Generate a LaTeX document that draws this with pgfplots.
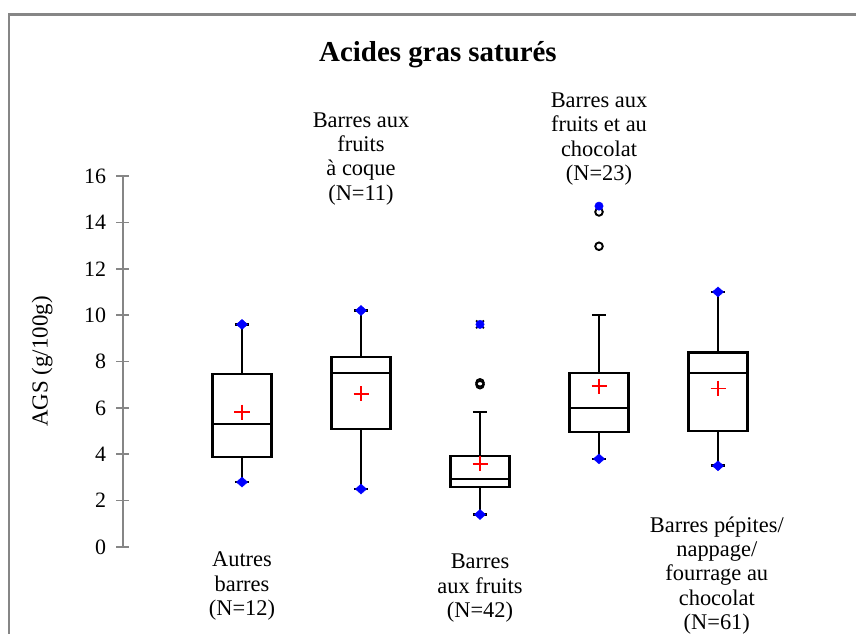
\documentclass[border=0pt]{standalone}
\usepackage{pgfplots}
\pgfplotsset{compat=1.18}
\usepgfplotslibrary{statistics}
\usepackage{fontspec}
\setmainfont{Liberation Serif}
\definecolor{axgray}{RGB}{134,134,134}
\definecolor{mblue}{RGB}{0,0,255}
\begin{document}
\begin{tikzpicture}
\begin{axis}[
  at={(0,0)}, anchor=south west,
  scale only axis, width=714bp, height=371bp,
  xmin=0, xmax=6, ymin=0, ymax=16,
  clip=false,
  axis y line*=left, axis x line=none,
  xtick=\empty,
  ytick={0,2,...,16},
  tick align=center, major tick length=13bp,
  y axis line style={axgray, line width=1.6bp},
  ytick style={axgray, line width=1.6bp},
  /pgf/number format/assume math mode=true,
  yticklabel style={font=\fontsize{22}{22}\selectfont, black, xshift=-7bp},
  ylabel={AGS (g/100g)},
  ylabel style={at={(rel axis cs:-0.1134,0.5)}, anchor=center, font=\fontsize{23}{23}\selectfont},
  boxplot/draw direction=y,
  boxplot/box extend=0.5,
  boxplot/whisker extend=0.12,
  boxplot/every box/.style={draw=black, line width=2.7bp},
  boxplot/every whisker/.style={black, line width=2.7bp},
  boxplot/every median/.style={black, line width=2.7bp},
]
% boxes
\addplot[black, line width=2.7bp, boxplot prepared={draw position=1, lower whisker=2.8, lower quartile=3.88, median=5.3, upper quartile=7.46, upper whisker=9.6}] coordinates {};
\addplot[black, line width=2.7bp, boxplot prepared={draw position=2, lower whisker=2.5, lower quartile=5.09, median=7.5, upper quartile=8.19, upper whisker=10.2}] coordinates {};
\addplot[black, line width=2.7bp, boxplot prepared={draw position=3, lower whisker=1.4, lower quartile=2.59, median=2.93, upper quartile=3.92, upper whisker=5.82}] coordinates {};
\addplot[black, line width=2.7bp, boxplot prepared={draw position=4, lower whisker=3.8, lower quartile=4.96, median=6.0, upper quartile=7.5, upper whisker=10.0}] coordinates {};
\addplot[black, line width=2.7bp, boxplot prepared={draw position=5, lower whisker=3.5, lower quartile=5.0, median=7.5, upper quartile=8.4, upper whisker=11.0}] coordinates {};
% outliers
\addplot[only marks, mark=o, mark size=3.8bp, black, line width=1.9bp] coordinates {(3,7.0)(3,7.08)(4,12.97)(4,14.45)};
\addplot[only marks, mark=x, mark size=5.5bp, black, line width=1.9bp] coordinates {(3,9.6)};
% min / max
\addplot[only marks, mark=diamond*, mark size=5bp, mblue, mark options={xscale=1.5}] coordinates {(1,2.8)(1,9.6)(2,2.5)(2,10.2)(3,1.4)(4,3.8)(5,3.5)(5,11.0)};
\addplot[only marks, mark=*, mark size=4.2bp, mblue] coordinates {(3,9.6)(4,14.7)};
% means
\addplot[only marks, mark=+, mark size=7.5bp, red, line width=1.3bp] coordinates {(1,5.82)(2,6.6)(3,3.58)(4,6.94)(5,6.85)};
% category labels
\begin{scope}[every node/.style={align=center, inner sep=0pt, anchor=north, font=\fontsize{22.5}{24.5}\selectfont}]
\node at (axis cs:1,-0.2) {Autres\\barres\\(N=12)};
\node at (axis cs:2,18.75) {Barres aux\\fruits\\à coque\\(N=11)};
\node at (axis cs:3,-0.3) {Barres\\aux fruits\\(N=42)};
\node at (axis cs:4,19.6) {Barres aux\\fruits et au\\chocolat\\(N=23)};
\node at (axis cs:4.99,1.32) {Barres pépites/\\nappage/\\fourrage au\\chocolat\\(N=61)};
\end{scope}
\end{axis}
\node[anchor=north, inner sep=0pt, font=\fontsize{29}{29}\selectfont\bfseries] at (315bp,506bp) {Acides gras saturés};
\draw[axgray, line width=2.2bp] (-114bp,-120bp) -- (-114bp,532.5bp) -- (760bp,532.5bp);
\pgfresetboundingbox
\useasboundingbox (-123bp,-87bp) rectangle (733bp,547bp);
\end{tikzpicture}
\end{document}
